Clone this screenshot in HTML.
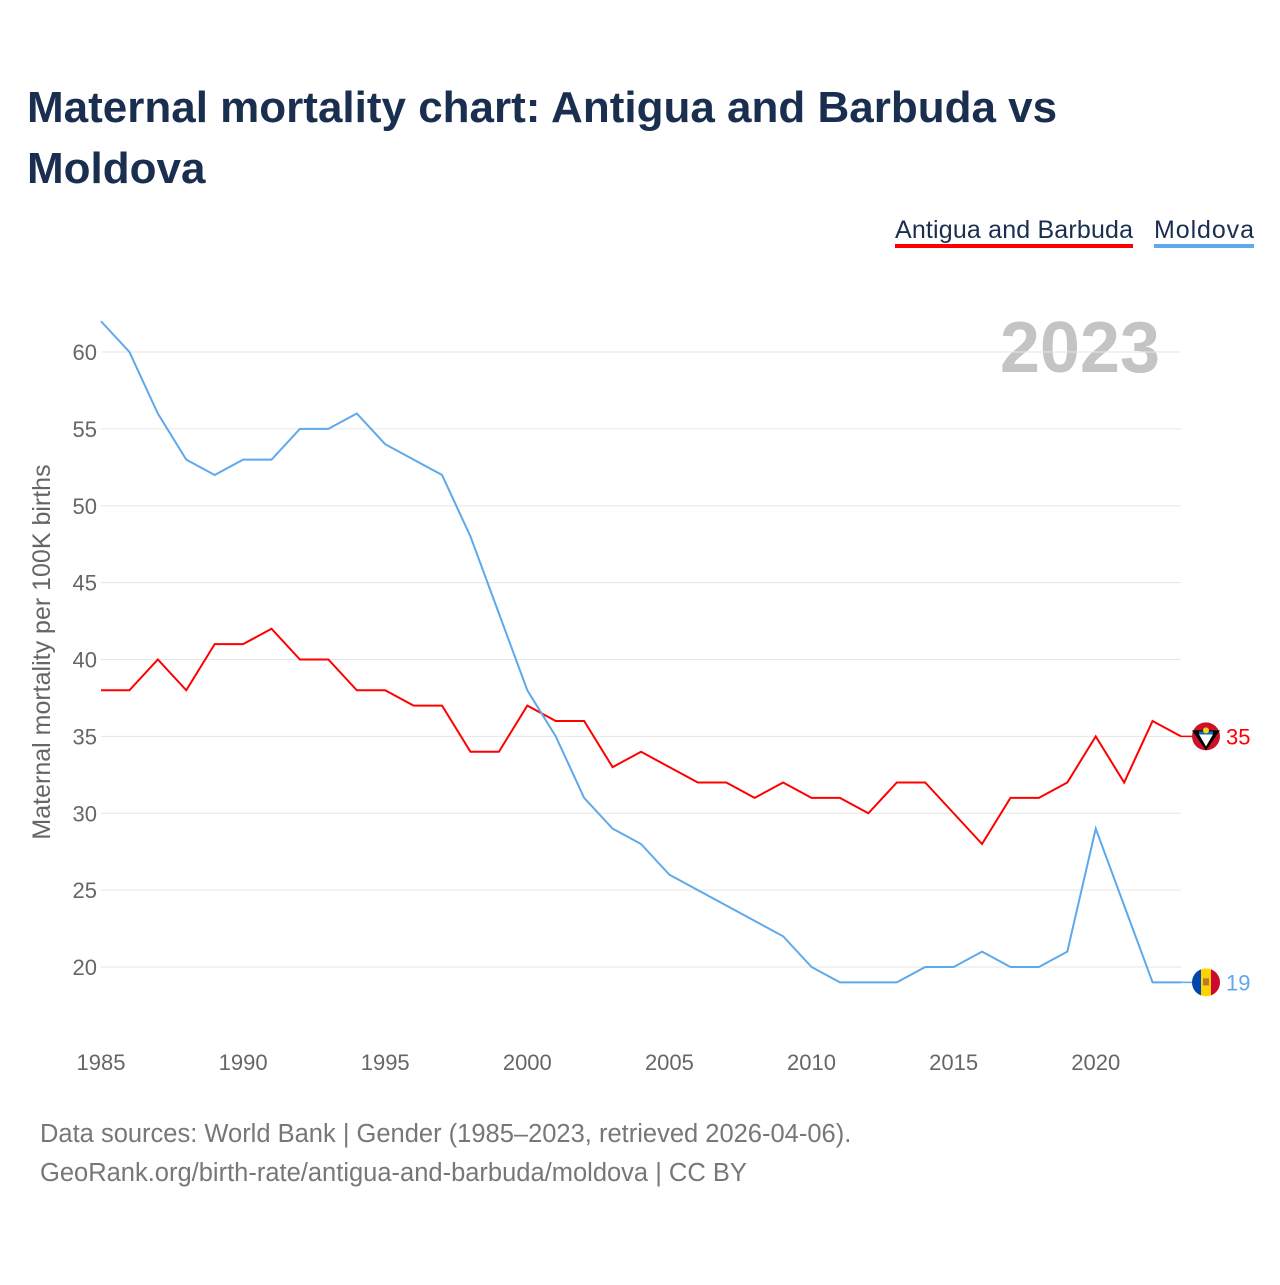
<!DOCTYPE html>
<html><head><meta charset="utf-8"><style>
body{margin:0;background:#fff;font-family:"Liberation Sans",sans-serif;}
</style></head><body>
<svg width="1280" height="1280" xmlns="http://www.w3.org/2000/svg">
<defs><clipPath id="mdclip"><circle id="mdc" cx="1206" cy="0" r="14"/></clipPath></defs>
<text x="27" y="122" font-size="44" font-weight="bold" fill="#1a2e4f">Maternal mortality chart: Antigua and Barbuda vs</text>
<text x="27" y="183" font-size="44" font-weight="bold" fill="#1a2e4f">Moldova</text>
<g><text x="895" y="238" font-size="25" fill="#1a2e4f" textLength="238">Antigua and Barbuda</text><rect x="895" y="244" width="238" height="4" fill="#ff0000"/></g>
<g><text x="1154" y="238" font-size="25" fill="#1a2e4f" textLength="100">Moldova</text><rect x="1154" y="244" width="100" height="4" fill="#5ea8ec"/></g>
<text x="1160" y="372" font-size="72" font-weight="bold" fill="#c4c4c4" text-anchor="end">2023</text>
<text transform="translate(50,652) rotate(-90)" font-size="25" fill="#666" text-anchor="middle">Maternal mortality per 100K births</text>
<g id="grid"></g><g id="xt"></g><g id="lines"></g>
<text x="40" y="1142" font-size="25.5" fill="#777">Data sources: World Bank | Gender (1985–2023, retrieved 2026-04-06).</text>
<text x="40" y="1181" font-size="25.5" fill="#777">GeoRank.org/birth-rate/antigua-and-barbuda/moldova | CC BY</text>
</svg>
<script>
const years=[];for(let y=1985;y<=2023;y++)years.push(y);
const antigua=[38,38,40,38,41,41,42,40,40,38,38,37,37,34,34,37,36,36,33,34,33,32,32,31,32,31,31,30,32,32,30,28,31,31,32,35,32,36,35];
const moldova=[62,60,56,53,52,53,53,55,55,56,54,53,52,48,43,38,35,31,29,28,26,25,24,23,22,20,19,19,19,20,20,21,20,20,21,29,24,19,19];
const yTicks=[20,25,30,35,40,45,50,55,60];
const xTicks=[1985,1990,1995,2000,2005,2010,2015,2020];
const NS="http://www.w3.org/2000/svg";
const X=y=>101+(y-1985)*(1080/38), Y=v=>967-(v-20)*15.375;
function mk(t,a,p){const e=document.createElementNS(NS,t);for(const k in a)e.setAttribute(k,a[k]);p.appendChild(e);return e;}
const g=document.getElementById('grid');
yTicks.forEach(v=>{
 const l=mk('line',{x1:101,x2:1181,y1:Y(v),y2:Y(v),stroke:'#e6e6e6','stroke-width':1},g);
 
 
 const t=mk('text',{x:97,y:Y(v)+8,'font-size':22,fill:'#666','text-anchor':'end'},g);t.textContent=v;
 
 
});
const xt=document.getElementById('xt');
xTicks.forEach(v=>{
 const t=mk('text',{x:X(v),y:1070,'font-size':22,fill:'#666','text-anchor':'middle'},xt);t.textContent=v;
 
 
});
const L=document.getElementById('lines');
function series(d,c,name,flag){
 const p=mk('polyline',{points:d.map((v,i)=>X(years[i])+','+Y(v)).join(' '),fill:'none',stroke:c,'stroke-width':2},L);
 
 
 const last=d[d.length-1],ly=Y(last),lx=X(years[years.length-1]);
 mk('line',{x1:lx,x2:1192,y1:ly,y2:ly,stroke:c,'stroke-width':1.5},L);
 const f=mk('g',{},L);
 
 
 if(flag==='ag'){
  mk('circle',{cx:1206,cy:ly,r:14,fill:'#ce1126'},f);
  mk('path',{d:`M1192 ${ly-6} L1220 ${ly-6} L1206 ${ly+14} Z`,fill:'#000'},f);
  mk('path',{d:`M1199 ${ly-2} L1213 ${ly-2} L1206 ${ly+10} Z`,fill:'#fff'},f);
  mk('rect',{x:1199,y:ly-5,width:14,height:3,fill:'#0072c6'},f);
  mk('circle',{cx:1206,cy:ly-6,r:3,fill:'#fcd116'},f);
 }else{
  document.getElementById('mdc').setAttribute('cy',ly);
  f.setAttribute('clip-path','url(#mdclip)');
  mk('rect',{x:1192,y:ly-14,width:28,height:28,fill:'#ffd200'},f);
  mk('rect',{x:1192,y:ly-14,width:9,height:28,fill:'#0046ae'},f);
  mk('rect',{x:1211,y:ly-14,width:10,height:28,fill:'#cc092f'},f);
  mk('rect',{x:1203,y:ly-4,width:6,height:7,fill:'#b07e2a'},f);
 }
 const t=mk('text',{x:1226,y:ly+8,'font-size':22,fill:c},L);t.textContent=last;
 
 
}
series(antigua,'#ff0000','antigua','ag');
series(moldova,'#5ea8ec','moldova','md');
</script>
</body></html>
